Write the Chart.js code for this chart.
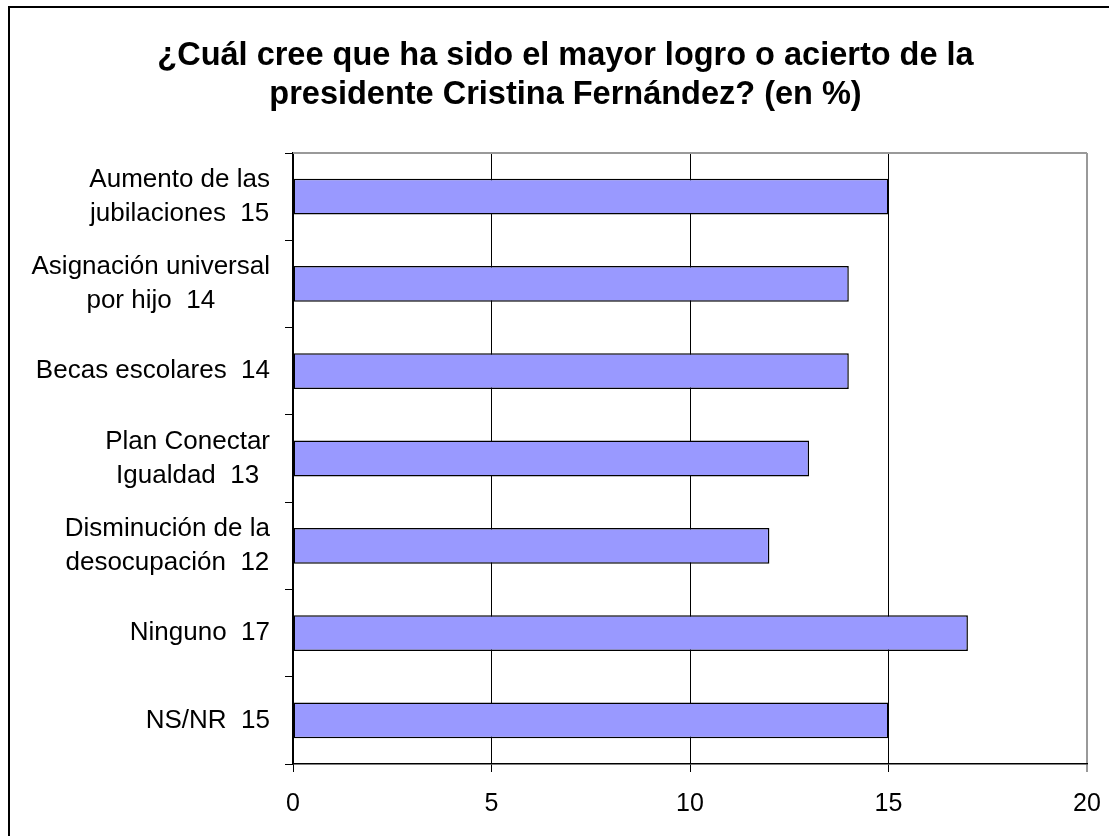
<!DOCTYPE html>
<html>
<head>
<meta charset="utf-8">
<script src="https://cdn.jsdelivr.net/npm/chart.js@4/dist/chart.umd.min.js"></script>
<style>
  html, body { margin:0; padding:0; background:#fff; overflow:hidden; }
  #frame { position:absolute; left:8px; top:6px; width:1111px; height:840px; border:2px solid #000; background:#fff; }
  canvas { display:block; }
</style>
</head>
<body>
<div id="frame"><canvas id="chart" width="1111" height="840"></canvas></div>
<script>
// data
const categoryLines = [
  ["Aumento de las", "jubilaciones  15"],
  ["Asignación universal", "por hijo  14"],
  ["Becas escolares  14"],
  ["Plan Conectar", "Igualdad  13"],
  ["Disminución de la", "desocupación  12"],
  ["Ninguno  17"],
  ["NS/NR  15"]
];
const values = [15, 14, 14, 13, 12, 17, 15];
const titleLines = [
  "¿Cuál cree que ha sido el mayor logro o acierto de la",
  "presidente Cristina Fernández? (en %)"
];
const xMin = 0, xMax = 20, xStep = 5;

const FONT = "'Liberation Sans', Arial, sans-serif";

// category labels: block right aligned, lines centered inside the block
const catLabels = {
  id: "catLabels",
  afterDraw(chart){
    const ctx = chart.ctx;
    const ys = chart.scales.y;
    const rightEdge = chart.chartArea.left - 23;
    ctx.save();
    ctx.font = "26px " + FONT;
    ctx.fillStyle = "#000";
    ctx.textAlign = "center";
    ctx.textBaseline = "middle";
    categoryLines.forEach((lines, i) => {
      const y = ys.getPixelForTick(i);
      const w = Math.max(...lines.map(l => ctx.measureText(l).width));
      const cx = rightEdge - w / 2;
      const step = 34;
      const y0 = y - (lines.length - 1) * step / 2;
      lines.forEach((l, j) => ctx.fillText(l, cx, y0 + j * step));
    });
    ctx.restore();
  }
};

// gray plot-area top edge
const plotTop = {
  id: "plotTop",
  beforeDatasetsDraw(chart){
    const { ctx, chartArea:a } = chart;
    ctx.save();
    ctx.strokeStyle = "#999";
    ctx.lineWidth = 2;
    ctx.beginPath();
    ctx.moveTo(a.left, a.top);
    ctx.lineTo(a.right, a.top);
    ctx.stroke();
    ctx.restore();
  }
};

new Chart(document.getElementById("chart"), {
  type: "bar",
  data: {
    labels: categoryLines.map(l => l.join(" ")),
    datasets: [{
      data: values,
      backgroundColor: "#9999FF",
      borderColor: "#000",
      borderWidth: 1.5,
      borderSkipped: false,
      categoryPercentage: 1,
      barPercentage: 0.41
    }]
  },
  options: {
    indexAxis: "y",
    responsive: false,
    animation: false,
    layout: { padding: { top: 0, right: 34, bottom: 29, left: 34 } },
    plugins: {
      legend: { display: false },
      tooltip: { enabled: false },
      title: {
        display: true,
        text: titleLines,
        color: "#000",
        font: { family: FONT, size: 32.5, weight: "bold", lineHeight: "39px" },
        padding: { top: 29, bottom: 38 }
      }
    },
    scales: {
      x: {
        min: xMin, max: xMax,
        ticks: { stepSize: xStep, color: "#000", padding: 17, font: { family: FONT, size: 25 } },
        grid: {
          color: c => (c.tick && c.tick.value === xMax) ? "#999" : "#000",
          lineWidth: c => (c.tick && c.tick.value === xMax) ? 2 : 1,
          tickLength: 8
        },
        border: { color: "#000", width: 1.5 },
        afterFit(scale){ scale.height = 55; }
      },
      y: {
        ticks: { display: false },
        grid: { drawOnChartArea: false, color: "#000", tickLength: 8, offset: true },
        border: { color: "#000", width: 1.5 },
        afterFit(scale){ scale.width = 249; }
      }
    }
  },
  plugins: [catLabels, plotTop]
});
</script>
</body>
</html>
